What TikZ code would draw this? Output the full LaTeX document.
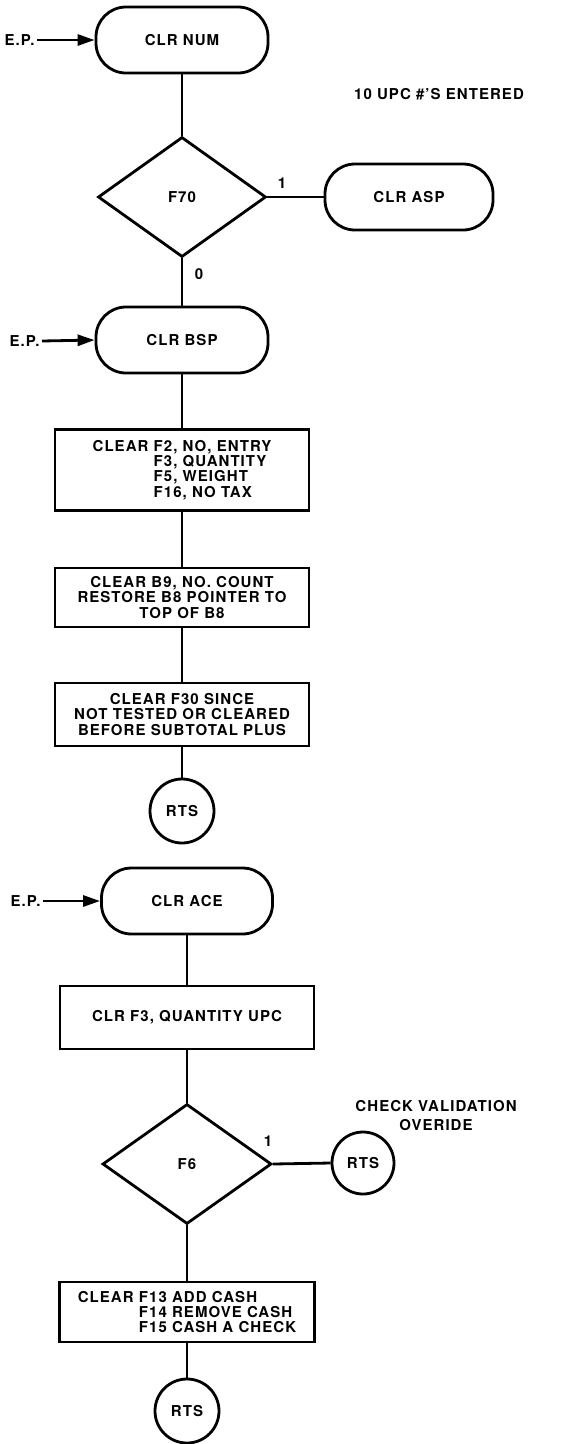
\documentclass[tikz,border=0pt]{standalone}
\usepackage{fontspec}
\setmainfont{TeX Gyre Heros}[LetterSpace=7]
\usetikzlibrary{shapes.geometric,arrows.meta}
\begin{document}
\begin{tikzpicture}[x=1pt,y=-1pt, line width=2.8pt,
  every node/.style={font=\fontsize{15}{15.2}\selectfont\bfseries},
  term/.style={draw, rectangle, rounded corners=30pt, minimum width=172pt, minimum height=66pt, inner sep=0pt},
  proc/.style={draw, rectangle, minimum width=254pt, inner sep=0pt, align=left},
  dec/.style={draw, diamond, minimum width=168pt, minimum height=120pt, inner sep=0pt},
  rts/.style={draw, circle, minimum size=64pt, inner sep=0pt},
  lbl/.style={inner sep=1pt},
  ep/.style={-{Triangle[length=17pt,width=11pt]}},
]
\useasboundingbox (0,0) rectangle (580,1444);

% nodes
\node[term] (num) at (182,40) {CLR NUM};
\node[lbl, anchor=east] (ep1) at (37,40) {E.P.};
\node[dec] (f70) at (182,197) {F70};
\node[term, minimum width=168pt] (asp) at (409,197) {CLR ASP};
\node[lbl] (one1) at (282,183) {1};
\node[lbl] (zero) at (199,274) {0};
\node[lbl] (upc) at (439,94) {10 UPC \#'S ENTERED};

\node[term] (bsp) at (182,340) {CLR BSP};
\node[lbl, anchor=east] (ep2) at (42,341) {E.P.};
\node[proc, minimum height=81pt] (b1) at (182,470)
  {CLEAR F2, NO, ENTRY\\\phantom{CLEAR }F3, QUANTITY\\\phantom{CLEAR }F5, WEIGHT\\\phantom{CLEAR }F16, NO TAX};
\node[proc, minimum height=59pt, align=center] (b2) at (182,597.5)
  {CLEAR B9, NO. COUNT\\RESTORE B8 POINTER TO\\TOP OF B8};
\node[proc, minimum height=63pt, align=center] (b3) at (182,714.5)
  {CLEAR F30 SINCE\\NOT TESTED OR CLEARED\\BEFORE SUBTOTAL PLUS};
\node[rts] (r1) at (182,811) {RTS};

\node[term, minimum width=171pt] (ace) at (187,901) {CLR ACE};
\node[lbl, anchor=east] (ep3) at (43,901) {E.P.};
\node[proc, minimum height=63pt] (b4) at (187,1017.5) {CLR F3, QUANTITY UPC};
\node[dec, minimum width=169pt] (f6) at (187,1164) {F6};
\node[lbl] (one2) at (268,1141) {1};
\node[rts, minimum size=62pt] (r2) at (363,1163) {RTS};
\node[lbl, align=center, font=\fontsize{15}{19}\selectfont\bfseries] (cvo) at (436,1116) {CHECK VALIDATION\\OVERIDE};
\node[proc, minimum width=255pt, minimum height=60pt] (b5) at (187,1312)
  {CLEAR F13 ADD CASH\\\phantom{CLEAR }F14 REMOVE CASH\\\phantom{CLEAR }F15 CASH A CHECK};
\node[rts] (r3) at (187,1411) {RTS};

% connectors
\draw[ep] (ep1.east) -- (num.west);
\draw[ep] (ep2.east) -- (bsp.west);
\draw[ep] (ep3.east) -- (ace.west);
\draw (num.south) -- (f70.north);
\draw (f70.east) -- (asp.west);
\draw (f70.south) -- (bsp.north);
\draw (bsp.south) -- (b1.north);
\draw (b1.south) -- (b2.north);
\draw (b2.south) -- (b3.north);
\draw (b3.south) -- (r1.north);
\draw (ace.south) -- (b4.north);
\draw (b4.south) -- (f6.north);
\draw (f6.east) -- (r2.west);
\draw (f6.south) -- (b5.north);
\draw (b5.south) -- (r3.north);
\end{tikzpicture}
\end{document}
